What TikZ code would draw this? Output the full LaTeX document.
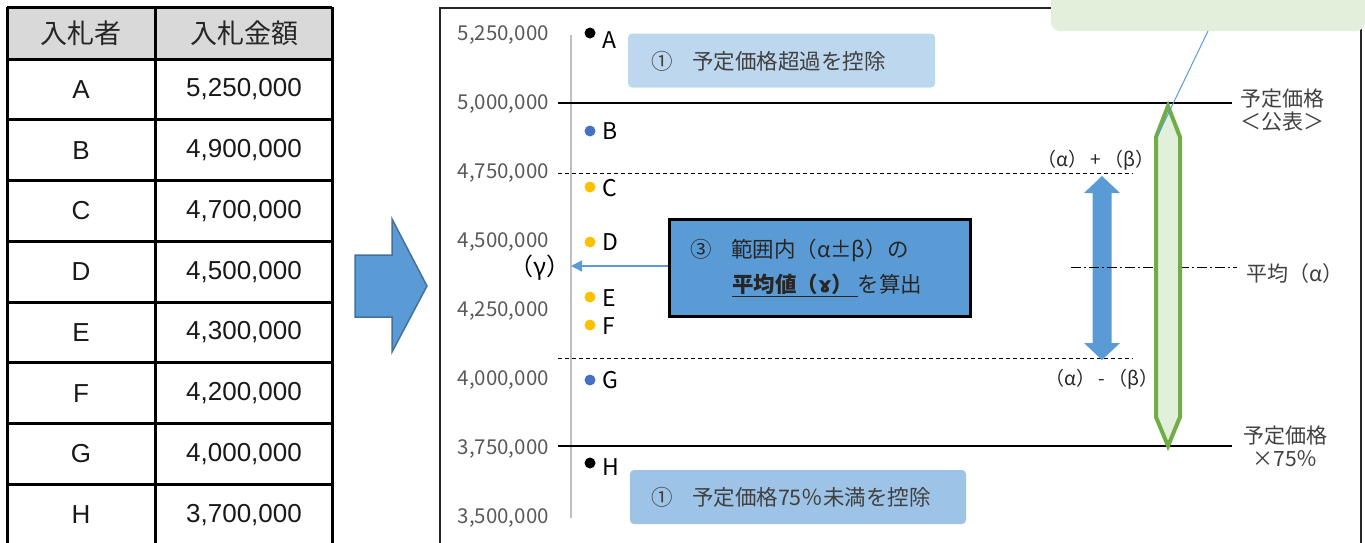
\documentclass[tikz,border=0pt]{standalone}
\usepackage{fontspec}
\setmainfont{Noto Sans CJK JP}
\newfontfamily\arialf{Liberation Sans}
\newfontfamily\dejavuf{DejaVu Sans}
\usetikzlibrary{arrows.meta}
\definecolor{hdrgray}{HTML}{D9D9D9}
\definecolor{ablue}{HTML}{5B9BD5}
\definecolor{ablueedge}{HTML}{41719C}
\definecolor{ptblue}{HTML}{4472C4}
\definecolor{ptgold}{HTML}{FFC000}
\definecolor{lgreen}{HTML}{E2EFDA}
\definecolor{ggreen}{HTML}{70AD47}
\definecolor{box1}{HTML}{BDD7EE}
\definecolor{box2}{HTML}{9DC3E6}
\definecolor{ticktext}{HTML}{595959}
\definecolor{darktext}{HTML}{404040}
\definecolor{axisgray}{HTML}{BFBFBF}
\newcommand{\fs}[1]{\fontsize{#1}{\fpeval{#1*1.1}}\selectfont}
\begin{document}
\begin{tikzpicture}[x=1pt,y=-1pt,
  cell/.style={inner sep=0pt,font=\arialf\fs{26},text=black!90},
  hcell/.style={inner sep=0pt,font=\fs{27},text=black!85},
  tick/.style={anchor=east,inner sep=0pt,font=\fs{20.5},text=ticktext},
  ptlab/.style={anchor=west,inner sep=0pt,font=\fs{23},text=black},
  dot/.style={circle,inner sep=0pt,minimum size=11pt},
  side/.style={inner sep=0pt,font=\fs{21},text=darktext,align=center},
  btext/.style={anchor=west,inner sep=0pt,font=\fs{21.5},text=darktext},
  ablab/.style={inner sep=0pt,font=\fs{19},text=black!85},
  refline/.style={line width=1.3pt,black},
  dashline/.style={line width=1pt,black,dash pattern=on 4pt off 3pt},
  tbl/.style={line width=3pt,black}
]
\useasboundingbox (0,0) rectangle (1365,542);
\clip (0,0) rectangle (1365,542);

% ---------------- table ----------------
\fill[hdrgray] (7,7) rectangle (332,59);
\foreach \yy in {59,119.75,180.5,241.25,302,362.75,423.5,484.25}
  \draw[tbl] (7,\yy) -- (332,\yy);
\draw[tbl] (7,7) -- (332,7);
\draw[tbl] (7,7) -- (7,560);
\draw[tbl] (155,7) -- (155,560);
\draw[tbl] (332,7) -- (332,560);
\node[hcell] (h1) at (81,33) {入札者};
\node[hcell] (h2) at (244,33) {入札金額};
\foreach \nm/\amt [count=\i] in {A/{5,250,000},B/{4,900,000},C/{4,700,000},D/{4,500,000},E/{4,300,000},F/{4,200,000},G/{4,000,000},H/{3,700,000}}{
  \node[cell] (n\nm) at (81,{89.4+60.75*(\i-1)}) {\nm};
  \node[cell] (v\nm) at (244,{89.4+60.75*(\i-1)}) {\amt};
}

% ---------------- block arrow ----------------
\draw[line width=1.5pt,draw=ablueedge,fill=ablue,line join=miter]
  (355,255) -- (392,255) -- (392,219) -- (427,286) -- (392,352) -- (392,317) -- (355,317) -- cycle;

% ---------------- chart frame ----------------
\draw[line width=1.5pt,black!85] (440,560) -- (440,8) -- (1361,8) -- (1361,560);

% green callout (top right)
\fill[lgreen,rounded corners=9pt] (1051,-20) rectangle (1365,31);
\coordinate (cpA) at (1208,31);
\coordinate (cpB) at (1157,137);

% axis
\draw[axisgray,line width=1.5pt] (571,35) -- (571,518);
\coordinate (gam) at (571,266);

% ticks
\node[tick] (t1) at (549,35) {5,250,000};
\node[tick] (t2) at (549,104) {5,000,000};
\node[tick] (t3) at (549,173) {4,750,000};
\node[tick] (t4) at (549,242) {4,500,000};
\node[tick] (t5) at (549,311) {4,250,000};
\node[tick] (t6) at (549,380) {4,000,000};
\node[tick] (t7) at (549,449) {3,750,000};
\node[tick] (t8) at (549,518) {3,500,000};

% reference lines
\draw[refline] (558,103) -- (1232,103);
\draw[refline] (558,446) -- (1232,446);
\draw[dashline] (558,173) -- (1133,173);
\draw[dashline] (558,358) -- (1133,358);

% boxes 1
\node[fill=box1,rounded corners=4pt,minimum width=307pt,minimum height=54pt,inner sep=0pt] (b1) at (781.5,60.5) {};
\node[btext] (b1t) at (651,61) {①\hspace{0.9em}予定価格超過を控除};
\node[fill=box2,rounded corners=4pt,minimum width=336pt,minimum height=54pt,inner sep=0pt] (b2) at (798,497) {};
\node[btext] (b2t) at (651,497) {①\hspace{0.9em}予定価格75％未満を控除};

% points
\node[dot,fill=black] (pA) at (590,33) {};
\node[dot,fill=ptblue] (pB) at (590,131) {};
\node[dot,fill=ptgold] (pC) at (590,187) {};
\node[dot,fill=ptgold] (pD) at (590,242) {};
\node[dot,fill=ptgold] (pE) at (590,297) {};
\node[dot,fill=ptgold] (pF) at (590,325) {};
\node[dot,fill=ptblue] (pG) at (590,380) {};
\node[dot,fill=black] (pH) at (590,463) {};
\node[ptlab] (lA) at (602,40) {A};
\node[ptlab] (lB) at (602,131) {B};
\node[ptlab] (lC) at (602,188) {C};
\node[ptlab] (lD) at (602,242) {D};
\node[ptlab] (lE) at (602,298) {E};
\node[ptlab] (lF) at (602,326) {F};
\node[ptlab] (lG) at (602,380) {G};
\node[ptlab] (lH) at (602,467) {H};

% box 3
\node[draw=black,line width=3pt,fill=ablue,minimum width=301pt,minimum height=97pt,inner sep=0pt] (b3) at (820,268) {};
\node[btext,text=black!85] (b3a) at (690,250) {③\hspace{0.9em}範囲内（α±β）の};
\node[btext,text=black!85] (b3b) at (732,285) {\underline{\textbf{平均値（{\dejavuf\bfseries ɤ}）}\hspace{0.2em}}を算出};
\draw[ablue,line width=1.3pt,-{Triangle[length=11pt,width=11pt]}] (b3.west |- gam) -- (gam);
\node[inner sep=0pt,font=\fs{24},text=black] (gl) at (540,268) {（γ）};

% blue double arrow
\fill[ablue] (1102,176) -- (1120,193) -- (1111.5,193) -- (1111.5,343) -- (1120,343) -- (1102,360)
  -- (1084,343) -- (1092.5,343) -- (1092.5,193) -- (1084,193) -- cycle;

% mean dash-dot line
\draw[black,line width=1pt,dash pattern=on 10pt off 3pt on 2pt off 3pt] (1071,267) -- (1237,267);

% green hexagon
\draw[ggreen,fill=lgreen,line width=4pt,line join=miter] (1168,106) -- (1180,137) -- (1180,417) -- (1168,446) -- (1156,417) -- (1156,137) -- cycle;
\draw[ablue,line width=1pt] (cpA) -- (cpB);

% alpha beta labels
\node[ablab] (apb) at (1096,160) {（α）\,+\,（β）};
\node[ablab] (amb) at (1102,379) {（α）\,-\,（β）};

% side labels
\node[side] (s1) at (1282,110) {予定価格\\＜公表＞};
\node[side,anchor=west] (s2) at (1246,274) {平均（α）};
\node[side] (s3) at (1285,446) {予定価格\\×75％};
\end{tikzpicture}
\end{document}
